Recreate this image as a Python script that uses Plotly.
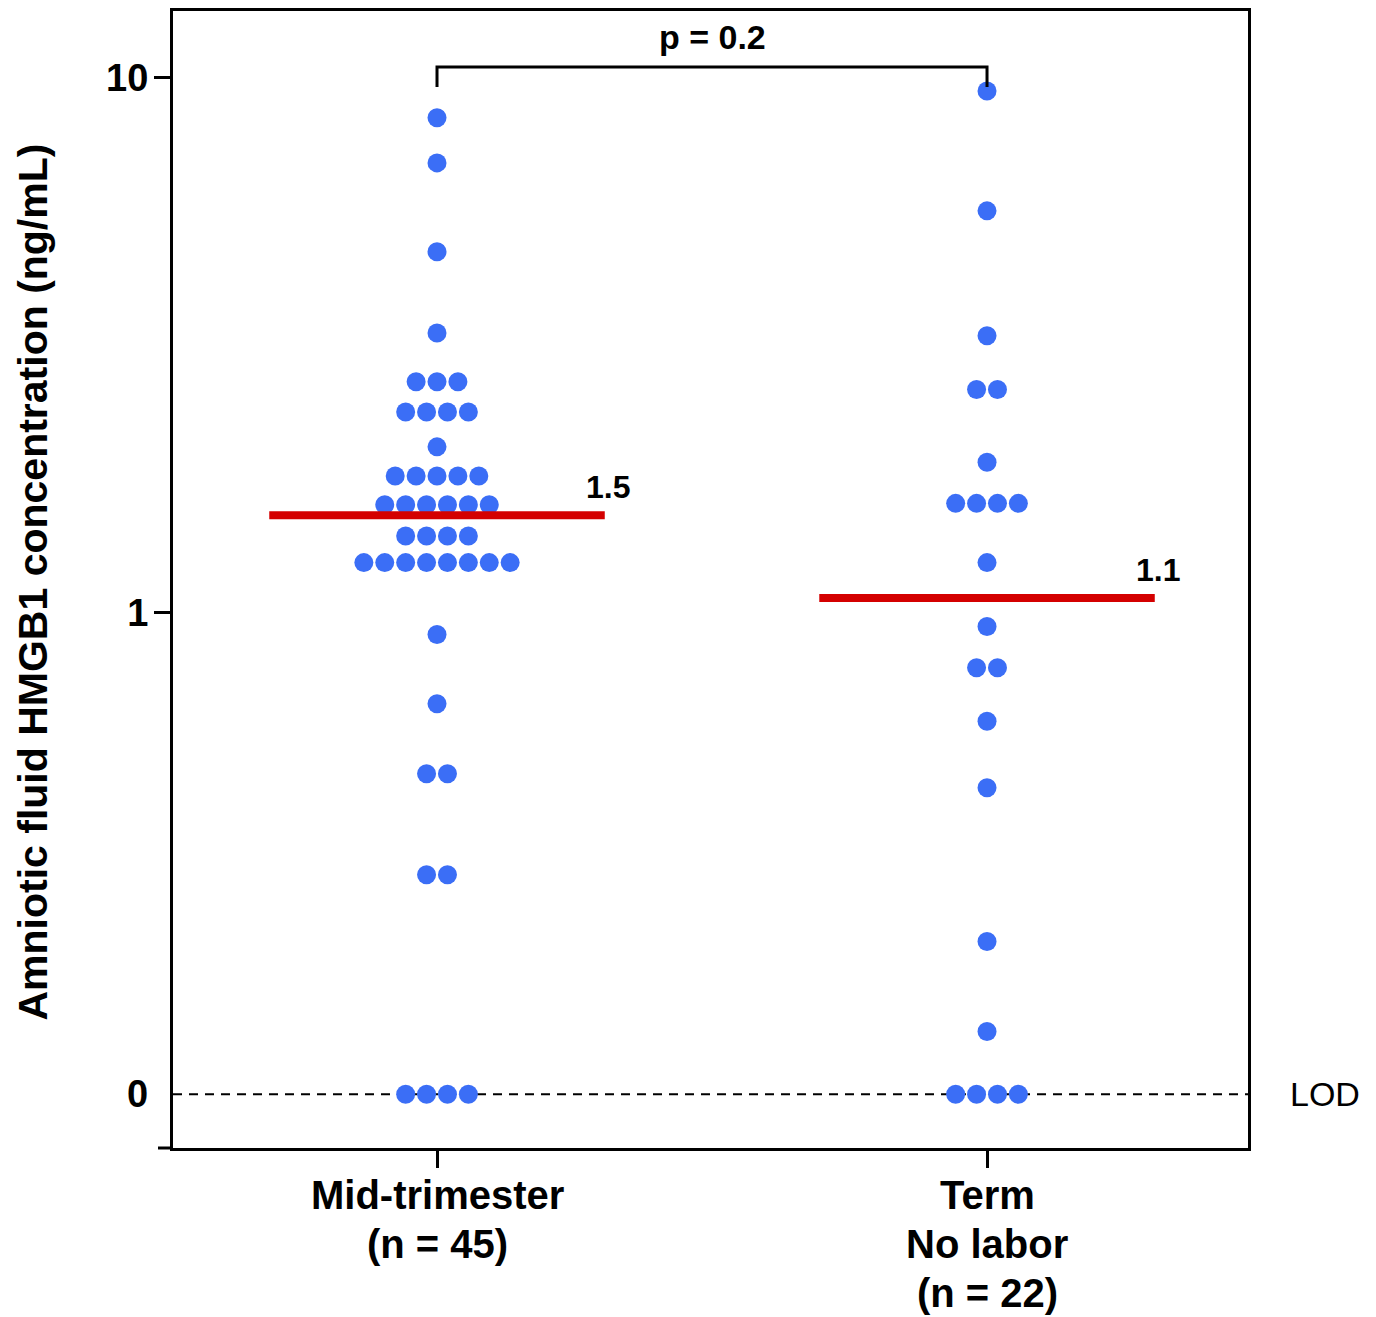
import numpy as np
import plotly.graph_objects as go

# ---------------- data ----------------
categories = ["Mid-trimester<br>(n = 45)", "Term<br>No labor<br>(n = 22)"]
LOD = 0.126  # limit of detection, displayed as "0"

mid_values = [8.40, 6.92, 4.72, 3.33,
              2.70, 2.70, 2.70,
              2.37, 2.37, 2.37, 2.37,
              2.04,
              1.80, 1.80, 1.80, 1.80, 1.80,
              1.59, 1.59, 1.59, 1.59, 1.59, 1.59,
              1.39, 1.39, 1.39, 1.39,
              1.24, 1.24, 1.24, 1.24, 1.24, 1.24, 1.24, 1.24,
              0.91, 0.676,
              0.50, 0.50,
              0.324, 0.324,
              LOD, LOD, LOD, LOD]

term_values = [9.43, 5.63, 3.29,
               2.61, 2.61,
               1.91,
               1.60, 1.60, 1.60, 1.60,
               1.24, 0.942,
               0.789, 0.789,
               0.627, 0.471, 0.243, 0.165,
               LOD, LOD, LOD, LOD]

medians = [1.52, 1.065]
median_labels = ["1.5", "1.1"]
p_text = "p = 0.2"
y_tickvals = [1, 10]
y_ticktext = ["1", "10"]
lod_ticktext = "0"

# ---------------- style ----------------
FONT = "Arial, Liberation Sans, Helvetica, sans-serif"
BLUE = "#3b6ef6"
RED = "#d40000"
DOT_STEP = 0.038
X_RANGE = [-0.48, 1.4745]
Y_RANGE = [-1.0, 1.1238]
PLOT_H = 1137  # plot-area height in px


def swarm(values, center):
    vals = np.array(values)
    xs = np.zeros(len(vals))
    for v in np.unique(vals):
        idx = np.where(vals == v)[0]
        n = len(idx)
        xs[idx] = center + (np.arange(n) - (n - 1) / 2) * DOT_STEP
    return xs, vals


fig = go.Figure()

# LOD dashed line
fig.add_trace(go.Scatter(x=X_RANGE, y=[LOD, LOD], mode="lines",
                         line=dict(color="black", width=2, dash="9px,7px"),
                         hoverinfo="skip", showlegend=False))

# dots
for i, vals in enumerate([mid_values, term_values]):
    xs, ys = swarm(vals, i)
    fig.add_trace(go.Scatter(x=xs, y=ys, mode="markers",
                             marker=dict(color=BLUE, size=19, line=dict(width=0)),
                             showlegend=False))

# median lines
for i, m in enumerate(medians):
    fig.add_trace(go.Scatter(x=[i - 0.305, i + 0.305], y=[m, m], mode="lines",
                             line=dict(color=RED, width=8),
                             hoverinfo="skip", showlegend=False))
    fig.add_annotation(x=i + 0.311, y=np.log10(m) + 0.053, text=median_labels[i],
                       showarrow=False, xanchor="center", yanchor="middle",
                       font=dict(family=FONT, size=32, color="black", weight="bold"))

# significance bracket
fig.add_trace(go.Scatter(x=[0, 0, 1, 1], y=[9.59, 10.45, 10.45, 9.59], mode="lines",
                         line=dict(color="black", width=3),
                         hoverinfo="skip", showlegend=False))
fig.add_annotation(x=0.5, y=0.977, xref="x", yref="paper", text=p_text,
                   showarrow=False, xanchor="center", yanchor="middle",
                   font=dict(family=FONT, size=34, color="black", weight="bold"))

# category labels (one annotation per line for tighter line spacing)
for i, cat in enumerate(categories):
    for j, line in enumerate(cat.split("<br>")):
        fig.add_annotation(x=i, xref="x", y=-(47 + 49 * j) / PLOT_H, yref="paper",
                           text=line, showarrow=False, xanchor="center", yanchor="middle",
                           font=dict(family=FONT, size=40, color="black", weight="bold"))

# "0" label at LOD and LOD label
fig.add_annotation(x=-0.0215, xref="paper", y=np.log10(LOD), yref="y", text=lod_ticktext,
                   showarrow=False, xanchor="right", yanchor="middle",
                   font=dict(family=FONT, size=38, color="black", weight="bold"))
fig.add_annotation(x=1.037, xref="paper", y=np.log10(LOD), yref="y", text="LOD",
                   showarrow=False, xanchor="left", yanchor="middle",
                   font=dict(family=FONT, size=34, color="black"))

# y-axis title
fig.add_annotation(x=(33 - 173) / 1075, xref="paper", y=0.5 - 3 / PLOT_H, yref="paper",
                   text="Amniotic fluid HMGB1 concentration (ng/mL)", textangle=-90,
                   showarrow=False, xanchor="center", yanchor="middle",
                   font=dict(family=FONT, size=41, color="black", weight="bold"))

# bottom axis line extension to the left
fig.add_shape(type="line", xref="paper", yref="paper", x0=-15 / 1075, x1=0, y0=0, y1=0,
              line=dict(color="black", width=3))

fig.update_xaxes(range=X_RANGE, tickvals=[0, 1], showticklabels=False,
                 showline=True, linecolor="black", linewidth=3, mirror=True,
                 ticks="outside", ticklen=17, tickwidth=3, tickcolor="black",
                 showgrid=False, zeroline=False, automargin=False)
fig.update_yaxes(type="log", range=Y_RANGE, tickvals=y_tickvals, ticktext=y_ticktext,
                 showline=True, linecolor="black", linewidth=3, mirror=True,
                 ticks="outside", ticklen=16, tickwidth=3, tickcolor="black",
                 showgrid=False, zeroline=False, ticklabelstandoff=-2, automargin=False,
                 tickfont=dict(family=FONT, size=38, color="black", weight="bold"))

# page body has an 8px margin: size the figure so the plot area lands at
# x 173..1248, y 11..1148 in the 1376x1317 window
fig.update_layout(width=1368, height=1309,
                  margin=dict(l=165, r=128, t=3, b=169),
                  plot_bgcolor="white", paper_bgcolor="white",
                  showlegend=False)

fig.write_html("out.html")
